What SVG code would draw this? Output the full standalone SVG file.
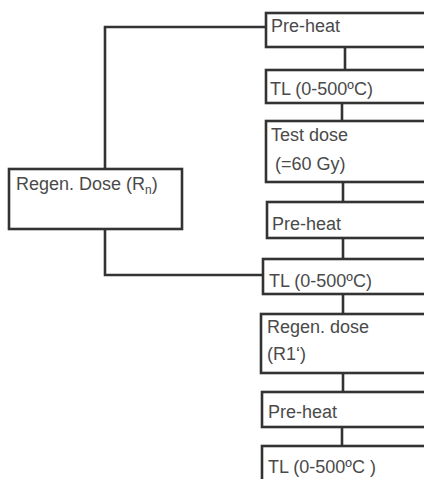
<svg xmlns="http://www.w3.org/2000/svg" width="424" height="479" viewBox="0 0 424 479">
<style>
.box{fill:#fff;stroke:#333;stroke-width:2.6}
.ln{fill:none;stroke:#333;stroke-width:2.6}
text{font-family:"Liberation Sans",Arial,sans-serif;font-size:18px;fill:#4a4a4a}
</style>
<rect width="424" height="479" fill="#fff"/>
<g id="connectors">
<path class="ln" d="M266,27 H105 V169"/>
<path class="ln" d="M105,229 V275 H263"/>
<path class="ln" d="M345,47 V70"/>
<path class="ln" d="M342,103 V121"/>
<path class="ln" d="M343,182 V202"/>
<path class="ln" d="M343,238 V259"/>
<path class="ln" d="M343,294 V314"/>
<path class="ln" d="M343,373 V392"/>
<path class="ln" d="M342,427 V446"/>
</g>
<g id="preheat1"><rect class="box" x="266" y="13" width="170" height="34"/><text x="271" y="32">Pre-heat</text></g>
<g id="tl1"><rect class="box" x="266" y="70" width="170" height="33"/><text x="270" y="95">TL (0-500ºC)</text></g>
<g id="testdose"><rect class="box" x="266" y="121" width="170" height="61"/><text x="271" y="141">Test dose</text><text x="275" y="170">(=60 Gy)</text></g>
<g id="regenRn"><rect class="box" x="9" y="169" width="173" height="60"/><text x="16" y="190">Regen. Dose (R<tspan font-size="12" dy="4">n</tspan><tspan dy="-4">)</tspan></text></g>
<g id="preheat2"><rect class="box" x="267" y="202" width="170" height="36"/><text x="272" y="230">Pre-heat</text></g>
<g id="tl2"><rect class="box" x="263" y="259" width="170" height="35"/><text x="269" y="287">TL (0-500ºC)</text></g>
<g id="regen1"><rect class="box" x="261" y="314" width="170" height="59"/><text x="267" y="333">Regen. dose</text><text x="267" y="360">(R1‘)</text></g>
<g id="preheat3"><rect class="box" x="262" y="392" width="170" height="35"/><text x="268" y="418">Pre-heat</text></g>
<g id="tl3"><rect class="box" x="262" y="446" width="170" height="50"/><text x="268" y="473">TL (0-500ºC )</text></g>
</svg>
